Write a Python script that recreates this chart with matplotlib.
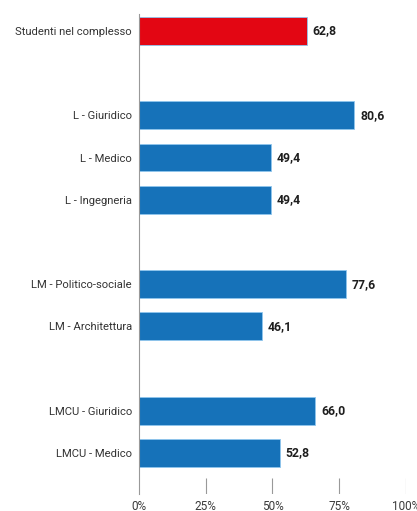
import matplotlib.pyplot as plt

# percentuali per gruppo di corso
categorie = ["Studenti nel complesso",
             "L - Giuridico", "L - Medico", "L - Ingegneria",
             "LM - Politico-sociale", "LM - Architettura",
             "LMCU - Giuridico", "LMCU - Medico"]
valori = [62.8, 80.6, 49.4, 49.4, 77.6, 46.1, 66.0, 52.8]
posizioni = [0, 2, 3, 4, 6, 7, 9, 10]
colori = ["#e30613"] + ["#1672b9"] * 7
tick_x = [0, 25, 50, 75, 100]
tick_lab = ["0%", "25%", "50%", "75%", "100%"]

plt.rcParams['font.family'] = ['Roboto', 'DejaVu Sans']

fig = plt.figure(figsize=(4.17, 5.11), dpi=100)
ax = fig.add_axes([0.3333, 0.0333, 0.6403, 0.9393])

ax.barh(posizioni, valori, height=0.66, color=colori,
        edgecolor="#8fc6ee", linewidth=0.6)
for p, v in zip(posizioni, valori):
    ax.text(v + 2.2, p, f"{v:.1f}".replace(".", ","), va="center", ha="left",
            fontsize=8.8, fontweight="bold", color="#1e1e1e")

# piccole linee di riferimento sopra le etichette dell'asse
ax.vlines(tick_x[1:], 10.6, 10.97, color="#999999", linewidth=0.8)

ax.set_ylim(10.97, -0.4)
ax.set_xlim(0, 100)
ax.set_yticks(posizioni)
ax.set_yticklabels(categorie, fontsize=8.1, color="#333333")
ax.set_xticks(tick_x)
ax.set_xticklabels(tick_lab, fontsize=8.5, color="#3a3a3a")
ax.tick_params(axis="both", length=0)
ax.tick_params(axis="x", pad=4)
ax.tick_params(axis="y", pad=5)

for s in ["top", "right", "bottom"]:
    ax.spines[s].set_visible(False)
ax.spines["left"].set_color("#999999")
ax.spines["left"].set_linewidth(0.8)

fig.savefig("out.png", dpi=100)
